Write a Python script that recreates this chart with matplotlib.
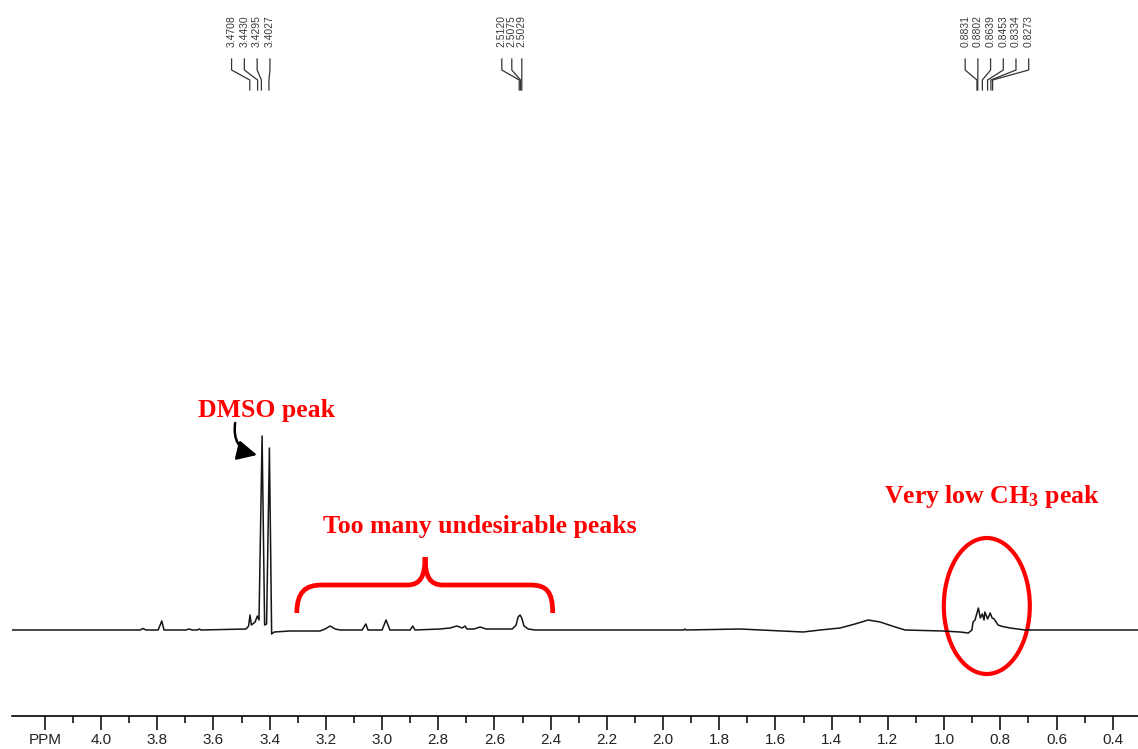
import matplotlib
matplotlib.use("Agg")
import matplotlib.pyplot as plt
from matplotlib.patches import Ellipse, FancyArrowPatch, PathPatch
from matplotlib.path import Path

plt.rcParams['mathtext.fontset'] = 'custom'
plt.rcParams['mathtext.rm'] = 'Liberation Serif:bold'
plt.rcParams['mathtext.it'] = 'Liberation Serif:bold'
plt.rcParams['mathtext.bf'] = 'Liberation Serif:bold'

# 1H NMR trace (chemical shift in ppm, intensity in arbitrary units)
shift = [4.317, 3.861, 3.851, 3.840, 3.797, 3.784, 3.776, 3.698, 3.687, 3.676,
         3.658, 3.651, 3.644, 3.484, 3.475, 3.470, 3.465, 3.452, 3.444, 3.438,
         3.427, 3.418, 3.411, 3.401, 3.393, 3.384, 3.327, 3.221, 3.203, 3.185,
         3.167, 3.149, 3.071, 3.058, 3.050, 3.000, 2.986, 2.972, 2.900, 2.891,
         2.883, 2.794, 2.758, 2.734, 2.715, 2.705, 2.698, 2.673, 2.651, 2.630,
         2.537, 2.523, 2.516, 2.509, 2.503, 2.495, 2.480, 2.456, 1.926, 1.922,
         1.918, 1.726, 1.502, 1.441, 1.370, 1.317, 1.270, 1.228, 1.174, 1.139,
         1.004, 0.943, 0.914, 0.901, 0.897, 0.890, 0.878, 0.871, 0.864, 0.858,
         0.855, 0.845, 0.836, 0.829, 0.822, 0.808, 0.795, 0.765, 0.712, 0.310]
intensity = [0, 0, 1.5, 0, 0, 9, 0, 0, 1, 0,
             0, 1, 0, 1, 4, 15, 5, 8, 14, 10,
             194, 5, 6, 182, -4, -2, -1, -1, 1, 4,
             1, 0, 0, 6, 0, 0, 10, 0, 0, 4,
             0, 1, 2, 4, 2, 4, 1, 1, 3, 1,
             1, 5, 13, 15, 12, 4, 1, 0, 0, 1,
             0, 1, -2, 0, 2, 6, 10, 8, 3, 0,
             -1, -2, -3, 0, 8, 10, 22, 12, 16, 10,
             18, 11, 17, 12, 11, 5, 3.7, 2, 0, 0]

# picked peaks, grouped as printed above the spectrum
peak_groups = [
    [3.4708, 3.4430, 3.4295, 3.4027],
    [2.5120, 2.5075, 2.5029],
    [0.8831, 0.8802, 0.8639, 0.8453, 0.8334, 0.8273],
]
label_start = [3.5356, 2.574, 0.925]
label_step = [0.0455, 0.0356, 0.0452]

ticks = [4.2, 4.0, 3.8, 3.6, 3.4, 3.2, 3.0, 2.8, 2.6, 2.4, 2.2, 2.0,
         1.8, 1.6, 1.4, 1.2, 1.0, 0.8, 0.6, 0.4]
tick_labels = ['PPM'] + ['%.1f' % t for t in ticks[1:]]
minor_ticks = [4.1, 3.9, 3.7, 3.5, 3.3, 3.1, 2.9, 2.7, 2.5, 2.3, 2.1, 1.9,
               1.7, 1.5, 1.3, 1.1, 0.9, 0.7, 0.5]

W, H = 1138, 749
fig = plt.figure(figsize=(W / 100, H / 100), dpi=100)
ax = fig.add_axes([12 / W, 33 / H, 1126 / W, 716 / H])

ax.plot(shift, intensity, color='#151515', lw=1.1)
ax.set_xlim(4.317, 0.310)
ax.set_ylim(-86, 630)

for s in ['left', 'right', 'top']:
    ax.spines[s].set_visible(False)
ax.spines['bottom'].set_linewidth(1.2)
ax.set_yticks([])
ax.set_xticks(ticks)
ax.set_xticklabels(tick_labels, family='Liberation Sans', fontsize=11, color='#222222')
ax.set_xticks(minor_ticks, minor=True)
ax.tick_params(axis='x', which='major', direction='out', length=10, width=1.1, pad=2)
ax.tick_params(axis='x', which='minor', direction='out', length=5, width=1.1)

# peak-pick labels with their connector lines
for peaks, start, step in zip(peak_groups, label_start, label_step):
    for i, p in enumerate(peaks):
        lx = start - i * step
        ax.text(lx, 583, '%.4f' % p, rotation=90, ha='center', va='bottom',
                fontsize=7.5, family='Liberation Sans', color='#3a3a3a')
        ax.plot([lx, lx, p, p], [571, 560, 550, 540], color='#333333', lw=0.9,
                clip_on=False)

red_font = dict(family='Liberation Serif', weight='bold', color='red', fontsize=18.5)

# DMSO annotation
ax.text(3.413, 220, 'DMSO peak', ha='center', va='center', **red_font)
ax.add_patch(FancyArrowPatch((3.523, 207), (3.445, 175),
                             connectionstyle='arc3,rad=0.45', arrowstyle='-|>',
                             mutation_scale=30, lw=1.8, color='black',
                             shrinkA=0, shrinkB=0))

# brace over the impurity region
ax.text(2.651, 103, 'Too many undesirable peaks', ha='center', va='center', **red_font)
brace = Path(
    [(3.3036, 17), (3.3025, 38), (3.274, 45), (3.2135, 45),
     (2.911, 45),
     (2.865, 45), (2.847, 53), (2.847, 73),
     (2.847, 53), (2.829, 45), (2.783, 45),
     (2.473, 45),
     (2.413, 45), (2.393, 38), (2.393, 17)],
    [Path.MOVETO, Path.CURVE4, Path.CURVE4, Path.CURVE4,
     Path.LINETO,
     Path.CURVE4, Path.CURVE4, Path.CURVE4,
     Path.CURVE4, Path.CURVE4, Path.CURVE4,
     Path.LINETO,
     Path.CURVE4, Path.CURVE4, Path.CURVE4])
ax.add_patch(PathPatch(brace, fill=False, edgecolor='red', lw=3.4, capstyle='butt'))

# methyl region
ax.text(0.829, 134, r'Very low CH$_3$ peak', ha='center', va='center', **red_font)
ax.add_patch(Ellipse((0.848, 24), 0.306, 136, fill=False, edgecolor='red', lw=3.0))

fig.savefig('out.png', dpi=100)
